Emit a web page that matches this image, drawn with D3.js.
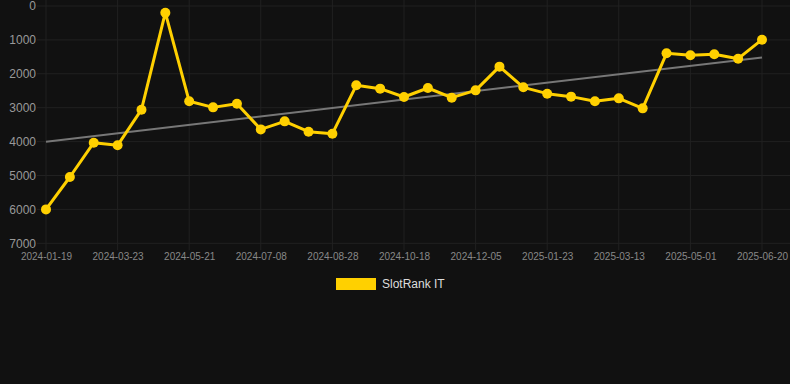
<!DOCTYPE html>
<html><head><meta charset="utf-8">
<script src="https://cdn.jsdelivr.net/npm/d3@7"></script>
<style>html,body{margin:0;padding:0;background:#111111;}svg{display:block;}</style>
</head><body>
<script>
const dates = ["2024-01-19","2024-02-09","2024-03-01","2024-03-23","2024-04-12","2024-05-01","2024-05-21","2024-06-06","2024-06-22","2024-07-08","2024-07-25","2024-08-11","2024-08-28","2024-09-14","2024-10-01","2024-10-18","2024-11-03","2024-11-19","2024-12-05","2024-12-21","2025-01-06","2025-01-23","2025-02-08","2025-02-24","2025-03-13","2025-03-29","2025-04-15","2025-05-01","2025-05-18","2025-06-03","2025-06-20"];
const ranks = [6000,5044,4032,4110,3058,197,2812,2990,2882,3640,3403,3707,3767,2340,2438,2684,2419,2704,2488,1789,2399,2586,2674,2812,2724,3019,1396,1455,1425,1554,993];
const yTicks = [0,1000,2000,3000,4000,5000,6000,7000];
const seriesName = "SlotRank IT";

(function () {
const W = 790, H = 384;
const pLeft = 46, pRight = 762, pTop = 6, pBottom = 243.3;
const svg = d3.select("body").append("svg").attr("width", W).attr("height", H);
svg.append("rect").attr("width", W).attr("height", H).attr("fill", "#111111");

const x = d3.scalePoint().domain(dates).range([pLeft, pRight]);
const y = d3.scaleLinear().domain([0, 7000]).range([pTop, pBottom]);
const font = "'Liberation Sans', Arial, Helvetica, sans-serif";
const gridColor = "#212121";

// horizontal grid + y axis
yTicks.forEach(t => {
  svg.append("line").attr("x1", 37).attr("x2", W).attr("y1", y(t)).attr("y2", y(t))
    .attr("stroke", gridColor).attr("stroke-width", 1);
});
const yAxis = d3.axisLeft(y).tickValues(yTicks).tickSize(0).tickPadding(0).tickFormat(d3.format("d"));
const yg = svg.append("g").attr("transform", "translate(36,0)").call(yAxis);
yg.select(".domain").remove();
yg.selectAll("text").attr("fill", "#999999").attr("font-size", 12).attr("font-family", font);

// vertical grid + x axis
const xTickVals = dates.filter((d, i) => i % 3 === 0);
xTickVals.forEach(d => {
  svg.append("line").attr("x1", x(d)).attr("x2", x(d)).attr("y1", 0).attr("y2", pBottom + 7)
    .attr("stroke", gridColor).attr("stroke-width", 1);
});
const xAxis = d3.axisBottom(x).tickValues(xTickVals).tickSize(0).tickPadding(0);
const xg = svg.append("g").attr("transform", `translate(0,${pBottom + 10})`).call(xAxis);
xg.select(".domain").remove();
xg.selectAll("text").attr("fill", "#888888").attr("font-size", 10).attr("font-family", font).attr("dy", "0.71em");

// trend line (least squares)
const n = ranks.length;
const idx = d3.range(n);
const mx = d3.mean(idx), my = d3.mean(ranks);
const slope = d3.sum(idx, i => (i - mx) * (ranks[i] - my)) / d3.sum(idx, i => (i - mx) ** 2);
const icpt = my - slope * mx;
svg.append("line")
  .attr("x1", x(dates[0])).attr("y1", y(icpt))
  .attr("x2", x(dates[n - 1])).attr("y2", y(icpt + slope * (n - 1)))
  .attr("stroke", "#777777").attr("stroke-width", 2);

// series line
const line = d3.line().x((d, i) => x(dates[i])).y(d => y(d));
svg.append("path").datum(ranks).attr("d", line).attr("fill", "none")
  .attr("stroke", "#FFD000").attr("stroke-width", 3).attr("stroke-linejoin", "round");
svg.selectAll("circle.pt").data(ranks).enter().append("circle")
  .attr("cx", (d, i) => x(dates[i])).attr("cy", d => y(d)).attr("r", 5)
  .attr("fill", "#FFD000");

// legend
svg.append("rect").attr("x", 336).attr("y", 278).attr("width", 40).attr("height", 12).attr("fill", "#FFD000");
svg.append("text").attr("x", 382).attr("y", 284).attr("dy", "0.35em").text(seriesName)
  .attr("fill", "#dddddd").attr("font-size", 12).attr("font-family", font);
})();
</script>
</body></html>
